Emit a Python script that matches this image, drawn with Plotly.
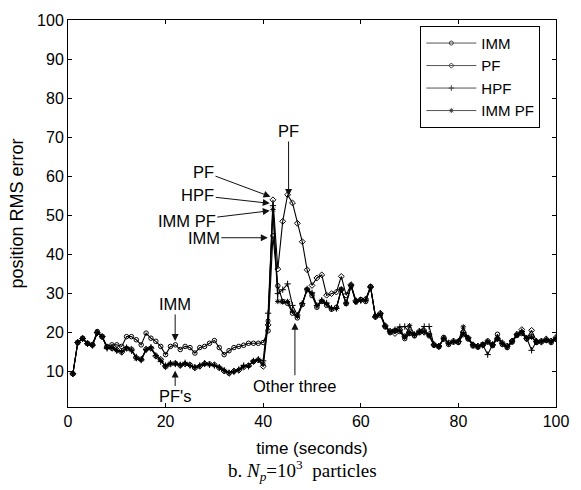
import plotly.graph_objects as go

time_s = list(range(1, 101))

imm = [9.5, 17.5, 18.6, 17.3, 17.0, 20.3, 19.0, 16.5, 16.9, 16.9,
       16.5, 19.0, 19.0, 18.2, 16.9, 19.9, 18.6, 17.8, 16.5, 14.4,
       16.5, 16.9, 15.7, 16.5, 16.2, 14.8, 16.2, 16.5, 17.3, 18.0,
       16.2, 14.4, 15.4, 16.2, 16.5, 16.8, 17.3, 17.3, 17.3, 17.5,
       20.5, 44.8, 32.0, 28.0, 27.5, 25.0, 23.8, 27.2, 31.0, 29.5,
       26.5, 28.0, 27.0, 26.0, 26.5, 31.0, 27.5, 32.0, 28.0, 28.5,
       28.0, 31.7, 24.2, 24.5, 21.5, 20.0, 20.5, 20.3, 18.5, 19.8,
       19.2, 20.0, 20.5, 19.2, 16.8, 16.4, 18.8, 17.0, 17.6, 17.5,
       19.5, 18.4, 16.6, 16.3, 17.0, 17.6, 16.7, 19.6, 17.0, 16.2,
       17.6, 19.3, 19.8, 18.4, 19.0, 17.5, 17.9, 18.0, 17.5, 18.3]

pf = [9.5, 17.5, 18.5, 17.2, 16.8, 20.0, 19.0, 16.3, 16.0, 15.6,
      15.0, 16.0, 15.8, 13.6, 13.2, 15.8, 16.0, 14.0, 13.2, 11.3,
      12.0, 12.2, 11.6, 12.0, 11.8, 11.0, 11.4, 12.1, 12.0, 11.8,
      11.0, 10.2, 9.6, 10.2, 10.4, 11.2, 11.6, 12.6, 13.0, 11.4,
      22.0, 54.0, 36.3, 48.5, 55.3, 53.2, 48.0, 43.3, 36.1, 32.1,
      34.0, 34.8, 29.6, 30.0, 30.4, 34.4, 29.6, 32.3, 28.2, 28.4,
      28.6, 31.8, 24.0, 25.0, 21.8, 20.4, 19.8, 20.8, 19.0, 20.2,
      19.4, 20.4, 20.1, 19.6, 17.0, 16.6, 18.4, 17.4, 17.9, 17.7,
      20.2, 18.7, 16.9, 16.6, 16.8, 17.9, 17.0, 18.4, 17.4, 16.6,
      17.9, 19.6, 20.8, 18.5, 20.6, 17.8, 17.6, 18.4, 17.9, 18.8]

hpf = [9.5, 17.5, 18.5, 17.2, 16.8, 20.0, 19.0, 16.0, 16.2, 15.4,
       15.2, 16.2, 15.4, 13.8, 13.0, 15.6, 16.3, 14.2, 12.6, 11.6,
       12.2, 12.0, 11.8, 12.3, 11.6, 11.2, 11.6, 12.2, 11.8, 11.6,
       11.2, 10.4, 9.8, 10.0, 10.6, 11.6, 11.4, 12.8, 13.2, 12.8,
       25.0, 52.5, 30.0, 31.0, 32.5, 27.0, 24.5, 27.5, 31.2, 30.2,
       27.0, 28.3, 27.6, 26.3, 26.2, 31.0, 27.6, 32.1, 27.9, 28.2,
       28.3, 31.6, 24.1, 24.9, 21.6, 20.3, 20.8, 21.5, 21.6, 20.0,
       19.5, 20.3, 21.6, 21.6, 16.9, 16.5, 18.6, 17.3, 17.8, 17.8,
       20.0, 18.6, 16.9, 16.5, 16.9, 14.4, 16.9, 18.6, 17.3, 16.5,
       17.8, 19.5, 20.3, 18.6, 15.5, 17.8, 17.8, 18.2, 17.8, 18.6]

imm_pf = [9.5, 17.5, 18.5, 17.2, 16.8, 20.0, 19.0, 16.2, 16.1, 15.5,
          15.1, 16.1, 15.6, 13.4, 13.1, 15.7, 16.1, 14.1, 13.0, 11.4,
          12.1, 12.1, 11.7, 12.1, 11.7, 11.1, 11.5, 12.0, 11.9, 11.7,
          11.1, 10.3, 9.7, 10.1, 10.5, 11.4, 11.5, 12.7, 13.1, 12.0,
          23.0, 51.5, 28.0, 27.9, 28.0, 25.5, 24.2, 27.4, 31.1, 30.0,
          26.9, 28.2, 27.4, 26.1, 26.2, 31.2, 27.4, 32.0, 27.8, 28.3,
          28.3, 31.7, 24.2, 24.8, 21.7, 20.2, 20.6, 20.6, 18.9, 21.8,
          19.6, 20.2, 20.2, 19.4, 16.8, 16.4, 18.5, 17.2, 17.7, 17.9,
          21.5, 18.5, 16.8, 16.4, 17.0, 17.7, 16.8, 18.5, 17.2, 16.4,
          17.7, 19.4, 20.2, 18.7, 18.9, 17.6, 17.7, 18.1, 17.7, 18.5]

series_names = ["IMM", "PF", "HPF", "IMM PF"]
series_vals = [imm, pf, hpf, imm_pf]
symbols = ["circle-open", "diamond-open", "cross-thin-open", "asterisk-open"]

x_ticks = [0, 20, 40, 60, 80, 100]
y_ticks = [10, 20, 30, 40, 50, 60, 70, 80, 90, 100]

FONT = "Liberation Sans, Arial, sans-serif"

fig = go.Figure()
for name, vals, sym in zip(series_names, series_vals, symbols):
    fig.add_trace(go.Scatter(
        x=time_s, y=vals, name=name, mode="lines+markers", showlegend=False,
        line=dict(color="black", width=1.1),
        marker=dict(symbol=sym, size=4.5, color="black",
                    line=dict(color="black", width=1)),
    ))
# legend-only entries (grey lines, tiny markers as in the reference legend)
for name, sym in zip(series_names, symbols):
    fig.add_trace(go.Scatter(
        x=[None], y=[None], name=name, mode="lines+markers",
        line=dict(color="#555555", width=1),
        marker=dict(symbol=sym, size=4, color="#444",
                    line=dict(color="#444", width=1)),
    ))

# annotations: (label, head_x, head_y, ax, ay)
ann = [
    ("PF", 41.5, 54.8, -67, -25),
    ("HPF", 41.35, 53.1, -72, -8),
    ("IMM PF", 41.35, 51.2, -83, 10),
    ("IMM", 40.95, 44.3, -64, 0),
    ("PF", 45.2, 55.0, 0, -65),
    ("IMM", 21.96, 17.9, 0, -37),
    ("PF's", 21.96, 10.35, 0, 26),
    ("Other three", 46.5, 22.55, 0, 63),
]
for txt, hx, hy, ax, ay in ann:
    fig.add_annotation(
        x=hx, y=hy, xref="x", yref="y", text=txt, showarrow=True,
        ax=ax, ay=ay, arrowhead=2, arrowsize=1.4, arrowwidth=1,
        arrowcolor="#111", standoff=0, startstandoff=0,
        font=dict(family=FONT, size=16.5, color="black"),
    )

fig.add_annotation(
    x=0.48, y=-0.163, xref="paper", yref="paper", showarrow=False,
    text="b. <i>N<sub>p</sub></i>=10<sup>3</sup>  particles",
    font=dict(family="Liberation Serif, Times New Roman, serif", size=19, color="black"),
    xanchor="center", yanchor="middle",
)

axis_common = dict(
    showline=True, linecolor="black", linewidth=1, mirror="ticks",
    ticks="inside", ticklen=4, tickcolor="black", showgrid=False, zeroline=False,
    tickfont=dict(family=FONT, size=16, color="black"),
)

fig.update_layout(
    width=581, height=490,
    margin=dict(l=68, r=18, t=15, b=83),
    paper_bgcolor="white", plot_bgcolor="white",
    font=dict(family=FONT, size=16, color="black"),
    xaxis=dict(range=[0, 100], tickvals=x_ticks,
               title=dict(text="time (seconds)", standoff=12,
                          font=dict(family=FONT, size=17)),
               **axis_common),
    yaxis=dict(range=[1, 100], tickvals=y_ticks,
               title=dict(text="position RMS error", standoff=8,
                          font=dict(family=FONT, size=18)),
               **axis_common),
    legend=dict(x=0.722, y=0.985, xanchor="left", yanchor="top",
                bordercolor="black", borderwidth=1, bgcolor="white",
                font=dict(family=FONT, size=15), tracegroupgap=0,
                itemwidth=50),
    showlegend=True,
)

fig.write_html("out.html")
